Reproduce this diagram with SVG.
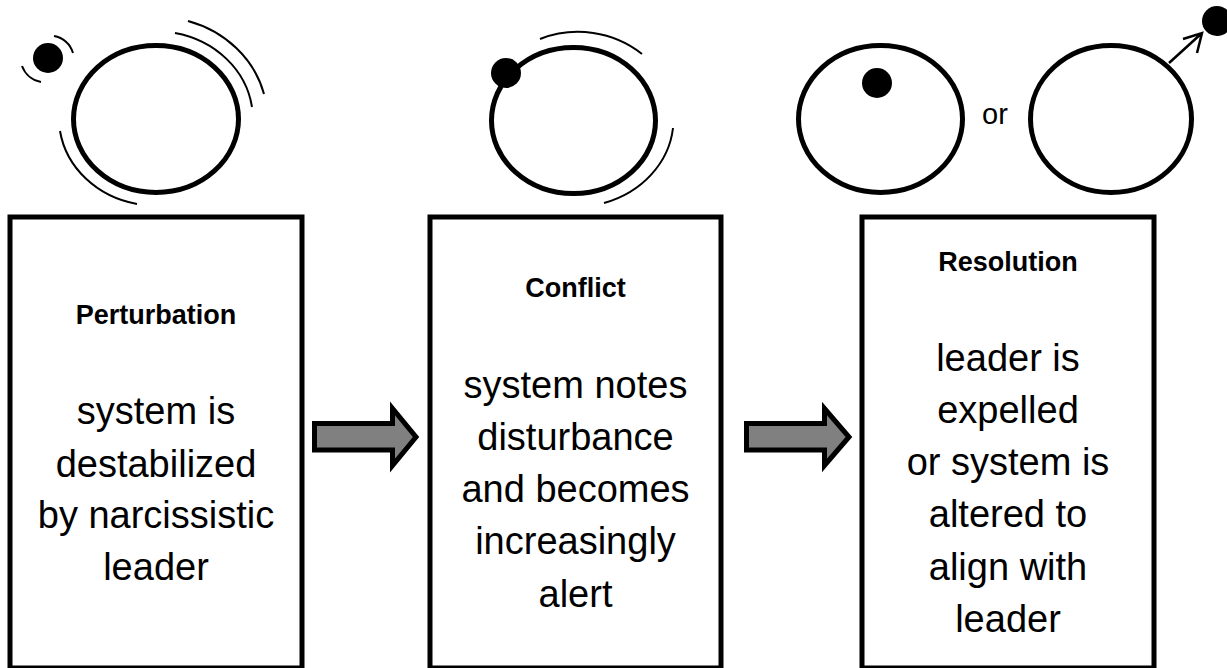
<svg xmlns="http://www.w3.org/2000/svg" width="1227" height="668" viewBox="0 0 1227 668">
<style>
.box{fill:#fff;stroke:#000;stroke-width:5}
.ring{fill:none;stroke:#000;stroke-width:5}
.arc{fill:none;stroke:#000;stroke-width:2}
.dot{fill:#000}
.head{font-family:"Liberation Sans",Arial,sans-serif;font-weight:bold;font-size:27px;text-anchor:middle;fill:#000}
.body{font-family:"Liberation Sans",Arial,sans-serif;font-size:38px;text-anchor:middle;fill:#000}
.small{font-family:"Liberation Sans",Arial,sans-serif;font-size:29px;text-anchor:middle;fill:#000}
.flow{fill:#808080;stroke:#000;stroke-width:5;stroke-linejoin:miter}
</style>
<rect width="1227" height="668" fill="#fff"/>
<g id="icon-perturbation">
<ellipse class="ring" cx="156" cy="119" rx="82.5" ry="73.5"/>
<circle class="dot" cx="48" cy="58" r="15"/>
<path class="arc" d="M54,36 A24,24 0 0 1 73,53"/>
<path class="arc" d="M22,66 A25,25 0 0 0 41,82"/>
<path class="arc" d="M188,21 A111,102 0 0 1 264,94"/>
<path class="arc" d="M175,33 A97,88 0 0 1 252,107"/>
<path class="arc" d="M60,131 A97,88 0 0 0 137,204"/>
</g>
<g id="icon-conflict">
<ellipse class="ring" cx="573.5" cy="120.5" rx="82" ry="73"/>
<circle class="dot" cx="506" cy="73" r="15"/>
<path class="arc" d="M540,39 A100,95 0 0 1 642,54"/>
<path class="arc" d="M673,128 A100,88 0 0 1 604,203"/>
</g>
<g id="icon-resolution">
<ellipse class="ring" cx="880.5" cy="119" rx="82" ry="73.5"/>
<circle class="dot" cx="877" cy="83" r="15"/>
<text class="small" x="995" y="124">or</text>
<ellipse class="ring" cx="1111" cy="119" rx="80.5" ry="73.5"/>
<path fill="none" stroke="#000" stroke-width="2.5" d="M1169,63 L1202,33 M1183,39 L1202,33 L1197,53"/>
<circle class="dot" cx="1217" cy="21" r="15"/>
</g>
<g id="node-perturbation">
<rect class="box" x="10" y="217" width="292" height="451"/>
<text class="head" x="156" y="324">Perturbation</text>
<text class="body" x="156" y="424">system is</text>
<text class="body" x="156" y="477">destabilized</text>
<text class="body" x="156" y="528">by narcissistic</text>
<text class="body" x="156" y="580">leader</text>
</g>
<g id="node-conflict">
<rect class="box" x="430" y="217" width="291" height="451"/>
<text class="head" x="575.5" y="297">Conflict</text>
<text class="body" x="575.5" y="398">system notes</text>
<text class="body" x="575.5" y="450">disturbance</text>
<text class="body" x="575.5" y="502">and becomes</text>
<text class="body" x="575.5" y="554">increasingly</text>
<text class="body" x="575.5" y="607">alert</text>
</g>
<g id="node-resolution">
<rect class="box" x="862" y="217" width="292" height="451"/>
<text class="head" x="1008" y="271">Resolution</text>
<text class="body" x="1008" y="371">leader is</text>
<text class="body" x="1008" y="423">expelled</text>
<text class="body" x="1008" y="475">or system is</text>
<text class="body" x="1008" y="527">altered to</text>
<text class="body" x="1008" y="580">align with</text>
<text class="body" x="1008" y="632">leader</text>
</g>
<g id="connectors">
<path class="flow" d="M314.5,423.5 L392.5,423.5 L392.5,408.5 L416,437 L392.5,465.5 L392.5,450 L314.5,450 Z"/>
<path class="flow" d="M746.5,423.5 L824.5,423.5 L824.5,408.5 L849,437 L824.5,465.5 L824.5,450 L746.5,450 Z"/>
</g>
</svg>
